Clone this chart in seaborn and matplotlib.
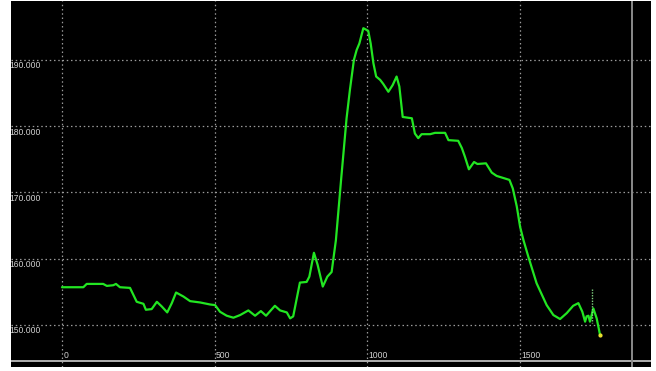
import matplotlib
matplotlib.use("Agg")
import matplotlib.pyplot as plt
import matplotlib.transforms as mtransforms
import numpy as np
import pandas as pd
import seaborn as sns

# Trace values (x = sample index, y = reading)
xs = [0, 70, 81, 135, 147, 168, 177, 190, 223, 245, 267, 275, 294, 311, 327,
      345, 360, 374, 398, 420, 453, 485, 502, 518, 540, 562, 584, 611, 633, 652,
      669, 698, 715, 737, 748, 758, 780, 802, 811, 826, 838, 855, 870, 884, 898,
      915, 933, 944, 957, 966, 975, 988, 1004, 1012, 1021, 1030, 1043, 1053,
      1070, 1084, 1097, 1106, 1117, 1147, 1157, 1168, 1179, 1207, 1223, 1256,
      1267, 1299, 1311, 1321, 1334, 1351, 1362, 1390, 1409, 1425, 1453, 1467,
      1478, 1491, 1502, 1513, 1529, 1556, 1589, 1611, 1633, 1655, 1676, 1693,
      1706, 1715, 1720, 1726, 1731, 1742, 1753, 1764]
ys = [155.7, 155.7, 156.2, 156.2, 155.9, 156.0, 156.2, 155.7, 155.6, 153.5,
      153.2, 152.3, 152.4, 153.5, 152.8, 151.9, 153.3, 154.9, 154.3, 153.6,
      153.4, 153.1, 153.0, 152.0, 151.4, 151.1, 151.5, 152.2, 151.4, 152.1,
      151.4, 152.9, 152.2, 151.9, 151.0, 151.3, 156.4, 156.5, 157.3, 160.9,
      159.1, 155.8, 157.3, 158.0, 162.8, 171.9, 181.2, 185.5, 190.0, 191.5,
      192.5, 194.8, 194.4, 192.5, 189.5, 187.5, 187.0, 186.4, 185.2, 186.2,
      187.5, 186.0, 181.4, 181.2, 178.9, 178.2, 178.8, 178.8, 179.0, 179.0,
      177.9, 177.8, 176.7, 175.4, 173.5, 174.6, 174.3, 174.4, 173.0, 172.5,
      172.1, 171.9, 170.6, 167.9, 164.8, 162.8, 160.3, 156.3, 153.0, 151.5,
      150.9, 151.8, 152.9, 153.3, 152.0, 150.5, 151.3, 151.4, 150.5, 152.5,
      151.0, 148.5]

# Short dotted spike near the end of the trace
spike_x = [1739, 1739]
spike_y = [155.4, 150.3]

x_ticks = [0, 500, 1000, 1500]
x_tick_labels = ["0", "500", "1000", "1500"]
y_ticks = [150, 160, 170, 180, 190]
y_tick_labels = ["150.000", "160.000", "170.000", "180.000", "190.000"]

df = pd.DataFrame({"x": xs, "y": ys})
spike = pd.DataFrame({"x": spike_x, "y": spike_y})

sns.set_style("dark")
fig = plt.figure(figsize=(6.56, 3.71), dpi=100, facecolor="white")
ax = fig.add_axes([11 / 656, 4 / 371, 640 / 656, 366 / 371])
ax.set_facecolor("black")
for s in ax.spines.values():
    s.set_visible(False)

ax.set_xlim(-167.2, 1931.1)
ax.set_ylim(143.66, 198.9)
ax.set_xticks([])
ax.set_yticks([])

# dotted grid
for xv in x_ticks:
    ax.axvline(xv, color="#9a9a9a", lw=0.9, ls=(0, (1.2, 2.2)), zorder=1)
for yv in y_ticks:
    ax.axhline(yv, color="#9a9a9a", lw=0.9, ls=(0, (1.2, 2.2)), zorder=1)

# frame lines
ax.axhline(144.57, color="#b0b0b0", lw=1.4, zorder=2)
ax.axvline(1868.9, color="#8a8a8a", lw=1.4, zorder=2)

sns.lineplot(data=df, x="x", y="y", ax=ax, color="#22e622", lw=1.6,
             sort=False, estimator=None, zorder=4)
sns.lineplot(data=spike, x="x", y="y", ax=ax, color="#7fd07f", lw=1.0,
             ls=(0, (1, 1)), sort=False, estimator=None, zorder=5)
ax.plot([xs[-1]], [ys[-1]], marker="o", ms=2.0, color="#e8e030", zorder=6)
ax.set_xlabel("")
ax.set_ylabel("")

font = dict(family="Liberation Sans", size=6.2, color="#d0d0d0")
trans_y = mtransforms.offset_copy(ax.transData, fig=fig, x=0, y=-6, units="dots")
for yv, lab in zip(y_ticks, y_tick_labels):
    ax.text(-174, yv, lab, transform=trans_y, ha="left", va="center",
            clip_on=True, **font)
trans_x = mtransforms.offset_copy(ax.transData, fig=fig, x=1.5, y=0, units="dots")
for xv, lab in zip(x_ticks, x_tick_labels):
    ax.text(xv, 145.47, lab, transform=trans_x, ha="left", va="center", **font)

fig.savefig("out.png", dpi=100, facecolor="white")
